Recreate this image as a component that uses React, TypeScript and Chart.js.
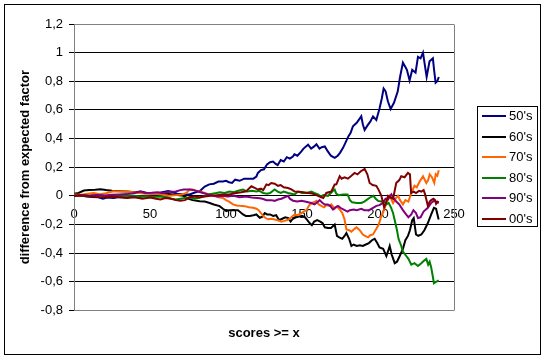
import React, { useEffect, useRef } from "react";
import { Chart, registerables } from "chart.js";
Chart.register(...registerables);

const seriesLabels = ["50's", "60's", "70's", "80's", "90's", "00's"];
const seriesColors = ["#000080", "#000000", "#FF6600", "#008000", "#800080", "#800000"];

const xTitle = "scores >= x";
const yTitle = "difference from expected factor";
const xMin = 0, xMax = 250, xStep = 50;
const yMin = -0.8, yMax = 1.2, yStep = 0.2;

const s50: [number, number][] = [
  [0,0],[4,0.005],[8,-0.005],[12,-0.008],[16,-0.01],[19,-0.02],[22,-0.012],[26,-0.015],[30,-0.008],[34,-0.012],[38,-0.006],[42,-0.01],[46,-0.003],[50,0.0],[54,0.01],[58,0.025],[62,0.033],[65,0.025],[68,0.015],[72,0.01],[76,0.01],[80,0.025],[83,0.035],[86,0.065],[89,0.08],[92,0.085],[95,0.1],[98,0.1],[100,0.105],[102,0.095],[104,0.09],[106,0.113],[109,0.105],[112,0.12],[115,0.12],[118,0.12],[120,0.135],[121,0.16],[123,0.18],[125,0.185],[127,0.22],[129,0.235],[131,0.24],[132.5,0.225],[134,0.215],[136,0.25],[138,0.24],[140,0.27],[142,0.26],[144,0.275],[145,0.29],[147,0.28],[149.6,0.31],[151,0.33],[154,0.357],[156,0.33],[158,0.345],[159.5,0.36],[161.5,0.33],[163,0.34],[165,0.345],[167,0.31],[169,0.28],[171.5,0.265],[173.5,0.28],[175,0.3],[177,0.335],[179,0.38],[180.5,0.415],[182,0.44],[183.5,0.485],[186,0.51],[189,0.555],[190,0.5],[191.2,0.46],[193,0.49],[195,0.52],[196.7,0.555],[198.9,0.53],[201,0.61],[202.5,0.68],[203.7,0.75],[205,0.73],[206.5,0.66],[208.3,0.606],[210.5,0.65],[213,0.73],[214.5,0.83],[216.4,0.93],[218,0.9],[219,0.88],[220.8,0.806],[222.5,0.88],[224.7,0.86],[226.3,0.97],[228,0.96],[229.6,1.0],[231,0.9],[232,0.83],[233.9,0.94],[236.1,0.96],[237,0.87],[237.9,0.79],[239,0.8],[240,0.83]
];

const s60: [number, number][] = [
  [0,0.014],[3,0.02],[6.5,0.037],[10,0.04],[14,0.042],[17.4,0.046],[21,0.04],[25,0.035],[30.5,0.032],[35,0.03],[40,0.025],[44,0.03],[48,0.02],[52,0.018],[56,0.02],[61,0.015],[65,0.01],[68,0.005],[72,0.0],[75,-0.02],[78,-0.03],[82.7,-0.037],[86,-0.04],[89.3,-0.05],[92,-0.06],[95.8,-0.072],[98,-0.09],[100.2,-0.107],[102,-0.1],[104.6,-0.1],[107.9,-0.1],[111.2,-0.13],[113,-0.14],[115.6,-0.14],[118,-0.135],[120,-0.13],[122.2,-0.153],[124,-0.145],[125.5,-0.12],[127,-0.13],[129,-0.13],[131,-0.14],[133,-0.135],[135,-0.17],[137,-0.16],[139,-0.15],[141,-0.155],[142.5,-0.18],[144,-0.16],[146,-0.15],[148,-0.145],[150,-0.14],[152,-0.15],[153.5,-0.17],[155,-0.19],[156.5,-0.205],[158,-0.18],[160,-0.17],[162,-0.18],[163.5,-0.19],[165,-0.22],[167,-0.225],[169,-0.225],[170.5,-0.21],[171.5,-0.2],[173,-0.28],[174.5,-0.29],[176.5,-0.3],[178,-0.28],[179.2,-0.26],[181,-0.3],[182.5,-0.35],[184,-0.34],[186,-0.35],[188,-0.345],[190,-0.35],[192,-0.34],[194,-0.33],[196,-0.31],[197.8,-0.3],[199.5,-0.33],[201,-0.36],[203.4,-0.37],[205.5,-0.42],[206.5,-0.39],[207.7,-0.35],[209,-0.41],[211,-0.47],[212.5,-0.46],[214.3,-0.42],[216.4,-0.37],[218,-0.31],[219.7,-0.28],[221,-0.24],[222.5,-0.17],[223.5,-0.155],[225,-0.27],[226.5,-0.28],[228.5,-0.27],[230.5,-0.24],[232.8,-0.19],[235,-0.13],[236.8,-0.084],[238.2,-0.09],[239.9,-0.165]
];

const s70: [number, number][] = [
  [0,0.01],[5,0.008],[9,0.015],[13,0.02],[17,0.012],[21,0.018],[26,0.032],[30,0.03],[35,0.03],[39,0.025],[43,0.02],[47,0.015],[51,0.012],[55,0.014],[59,0.005],[63,0.0],[67,0.005],[71,0.01],[74,0.02],[76,0.044],[78,0.045],[80,0.035],[83,0.03],[86,0.02],[89,0.01],[92,0.0],[95,-0.01],[98,-0.015],[100,-0.03],[102,-0.04],[104.6,-0.06],[107,-0.068],[109,-0.07],[112.3,-0.072],[115,-0.08],[117.8,-0.083],[120,-0.09],[121.5,-0.1],[123,-0.12],[124.4,-0.14],[126,-0.155],[127.7,-0.164],[130,-0.16],[132,-0.165],[134,-0.17],[136.4,-0.18],[138.5,-0.175],[140.8,-0.167],[143,-0.15],[145.2,-0.13],[147,-0.135],[149.6,-0.12],[151,-0.11],[152.9,-0.1],[154.5,-0.07],[156.2,-0.05],[158,-0.045],[159.4,-0.035],[161,-0.06],[162.7,-0.07],[164.5,-0.08],[166,-0.065],[168,-0.07],[169.3,-0.06],[171.5,-0.09],[173,-0.075],[174.8,-0.095],[176.5,-0.12],[178,-0.165],[179.2,-0.235],[181,-0.24],[182.5,-0.25],[184,-0.235],[185.8,-0.22],[188,-0.24],[190,-0.27],[191.5,-0.28],[193.4,-0.29],[195,-0.275],[196.7,-0.27],[198.9,-0.23],[200.5,-0.2],[202.2,-0.14],[204,-0.1],[205.5,-0.05],[207.7,0.0],[209.9,-0.05],[211.5,-0.02],[213.2,0.0],[214.5,-0.03],[216.4,-0.06],[218,-0.03],[220,-0.04],[221.9,0.02],[224,0.07],[225.5,0.06],[227.4,0.1],[229.6,0.137],[231.8,0.09],[233,0.11],[234,0.15],[235.5,0.13],[237,0.09],[238,0.15],[239,0.14],[240,0.178]
];

const s80: [number, number][] = [
  [0,0.0],[5,0.003],[10,0.0],[15,0.005],[20,0.0],[25,-0.003],[30,0.0],[35,0.002],[39.4,0.0],[44,-0.005],[48,-0.003],[52,-0.008],[56,-0.005],[61.4,-0.01],[64,-0.02],[67,-0.025],[70,-0.02],[73,-0.015],[76.2,-0.01],[79,-0.02],[82,-0.015],[85,-0.005],[88,0.01],[91,0.015],[93.7,0.02],[96,0.025],[99,0.02],[102.4,0.03],[105,0.025],[108,0.035],[111.2,0.044],[114,0.03],[117,0.035],[120,0.03],[122,0.035],[124.4,0.02],[127,0.015],[129,0.02],[132,0.044],[134,0.03],[136,0.02],[138,0.03],[140.8,0.02],[143,0.015],[145.2,0.01],[147.4,0.03],[150,0.02],[153,0.02],[156.2,0.03],[158,0.02],[160.5,0.01],[162.5,-0.005],[164,0.005],[167.1,0.0],[169,0.02],[170.4,0.035],[171.5,0.044],[172.5,0.015],[174,0.005],[177,0.01],[180,0.01],[181.5,-0.03],[183,-0.045],[186,-0.05],[189,-0.05],[191,-0.04],[193,-0.025],[195,-0.01],[197,0.0],[198.5,-0.02],[200,-0.035],[202,-0.04],[204,-0.035],[205.5,-0.06],[207,-0.05],[208.5,-0.08],[209.9,-0.12],[211,-0.17],[212.5,-0.24],[213.5,-0.3],[215.3,-0.35],[216.4,-0.39],[218.6,-0.42],[220,-0.44],[221.9,-0.48],[224,-0.47],[226.3,-0.49],[228.5,-0.47],[230,-0.455],[231.8,-0.44],[233,-0.48],[234,-0.46],[235,-0.5],[236,-0.56],[236.8,-0.61],[238.2,-0.6],[240,-0.59]
];

const s90: [number, number][] = [
  [0,0.0],[5,0.005],[10,0.0],[15,0.005],[20,0.002],[25,0.008],[30,0.01],[35,0.012],[40,0.02],[43.7,0.03],[47,0.02],[51,0.022],[55,0.025],[59,0.02],[63,0.028],[67,0.03],[70,0.04],[72.2,0.044],[76,0.044],[79,0.04],[81.6,0.03],[84.9,0.02],[88,0.01],[91.5,0.0],[95,-0.005],[98,0.0],[101,-0.005],[105,0.0],[109,-0.01],[113,-0.005],[117,-0.012],[122.2,-0.017],[124,-0.02],[126.6,-0.03],[129.8,-0.03],[132,-0.035],[134.2,-0.026],[136.5,-0.02],[138.6,-0.01],[140.8,0.0],[142,-0.02],[144.1,-0.034],[147,-0.04],[149.6,-0.034],[152,-0.04],[154,-0.045],[156,-0.05],[158.3,-0.06],[160,-0.045],[161.6,-0.03],[163,-0.045],[164.9,-0.06],[167,-0.06],[168.5,-0.07],[170.4,-0.095],[172,-0.08],[173.7,-0.07],[175.5,-0.085],[178.1,-0.1],[180,-0.11],[181.4,-0.1],[184,-0.095],[186,-0.1],[189,-0.09],[191,-0.1],[194,-0.1],[196.5,-0.085],[198.9,-0.07],[201,-0.065],[203,-0.05],[205,-0.02],[206.6,-0.025],[208.8,0.01],[210.5,-0.02],[212,-0.04],[214,-0.06],[216.4,-0.1],[218.5,-0.13],[220,-0.15],[221.9,-0.13],[223.3,-0.1],[225,-0.12],[226.3,-0.155],[228,-0.15],[230,-0.11],[232.8,-0.084],[235,-0.05],[237.2,-0.03],[238.5,-0.05],[240,-0.045]
];

const s00: [number, number][] = [
  [0,0.0],[5,0.003],[10,-0.003],[15,-0.008],[20,-0.01],[25,-0.005],[30,-0.01],[35,-0.015],[40,-0.01],[45,-0.02],[50,-0.012],[54,-0.02],[56.9,-0.026],[60,-0.015],[64,-0.02],[67,-0.03],[70,-0.035],[73,-0.03],[76.2,-0.01],[79,-0.005],[82.7,-0.01],[86,-0.005],[90,0.0],[94,0.005],[98,0.01],[102,0.01],[106.8,0.02],[110,0.025],[113.4,0.032],[115,0.05],[116.7,0.067],[118.9,0.055],[121,0.044],[123,0.05],[124.5,0.04],[126.6,0.08],[128,0.075],[129.8,0.09],[132,0.085],[134.2,0.07],[136,0.075],[138,0.06],[140.8,0.055],[143,0.045],[145.2,0.03],[148,0.028],[151,0.025],[154,0.02],[156,0.018],[158.3,0.01],[160.5,0.0],[162.7,-0.01],[164,-0.015],[166,0.02],[169.3,0.03],[171.5,0.079],[172.6,0.08],[174.8,0.137],[176,0.12],[178,0.13],[180.2,0.12],[182.5,0.14],[184.6,0.16],[186.5,0.15],[188.5,0.17],[191.2,0.188],[193,0.15],[194.5,0.09],[196.5,0.075],[198.9,0.07],[200.5,0.04],[202.2,0.0],[204,-0.08],[205.5,-0.04],[206.6,0.0],[208,-0.01],[209.9,-0.02],[212,0.09],[214,0.11],[215.3,0.137],[217.5,0.13],[219.7,0.16],[221,0.15],[221.8,0.02],[223.5,0.03],[225,0.02],[227,0.035],[228.5,0.03],[230,0.04],[231,0.01],[232.8,-0.07],[234,-0.04],[235,-0.03],[236.5,-0.02],[237.5,-0.03],[238.2,-0.055],[239,-0.04],[240,-0.045]
];

const FONT = "'Liberation Sans', Arial, sans-serif";

function fmtY(v: number): string {
  const r = Math.round(v * 10) / 10;
  return String(r).replace(".", ",");
}

export default function App() {
  const ref = useRef<HTMLCanvasElement>(null);

  useEffect(() => {
    const canvas = ref.current;
    if (!canvas) return;
    const seriesData = [s50, s60, s70, s80, s90, s00];

    const framePlugin = {
      id: "frame",
      beforeDatasetsDraw(chart: any) {
        const { ctx, chartArea: a } = chart;
        ctx.save();
        ctx.strokeStyle = "#808080";
        ctx.lineWidth = 1;
        const x = Math.round(a.right) + 0.5;
        ctx.beginPath();
        ctx.moveTo(x, Math.round(a.top) + 0.5);
        ctx.lineTo(x, Math.round(a.bottom) + 0.5);
        ctx.stroke();
        ctx.restore();
      },
      afterDraw(chart: any) {
        const { ctx } = chart;
        ctx.save();
        // outer chart border
        ctx.strokeStyle = "#000000";
        ctx.lineWidth = 1;
        ctx.strokeRect(4.5, 4.5, 536, 350);
        // legend
        ctx.strokeRect(477.5, 106.5, 60, 120);
        ctx.font = "13px " + FONT;
        ctx.textBaseline = "middle";
        ctx.textAlign = "left";
        seriesLabels.forEach((lab, i) => {
          const y = Math.round(116 + i * 20.6);
          ctx.strokeStyle = seriesColors[i];
          ctx.lineWidth = 2;
          ctx.beginPath();
          ctx.moveTo(482, y);
          ctx.lineTo(506, y);
          ctx.stroke();
          ctx.fillStyle = "#000000";
          ctx.fillText(lab, 509, y + 0.5);
        });
        ctx.restore();
      },
    };

    const chart = new Chart(canvas, {
      type: "line",
      data: {
        datasets: seriesLabels.map((lab, i) => ({
          label: lab,
          data: seriesData[i].map(([x, y]) => ({ x, y })),
          borderColor: seriesColors[i],
          backgroundColor: seriesColors[i],
          borderWidth: 2,
          pointRadius: 0,
          tension: 0,
          fill: false,
          order: seriesLabels.length - i,
        })),
      },
      options: {
        responsive: false,
        animation: false,
        devicePixelRatio: 1,
        events: [],
        layout: { padding: { left: 0, right: 92, top: 24, bottom: 16 } },
        plugins: {
          legend: { display: false },
          tooltip: { enabled: false },
          title: {
            display: true,
            position: "bottom",
            fullSize: false,
            text: xTitle,
            color: "#000000",
            font: { family: FONT, size: 13, weight: "bold" },
            padding: { top: 15, bottom: 3 },
          },
        },
        scales: {
          x: {
            type: "linear",
            position: { y: 0 } as any,
            min: xMin,
            max: xMax,
            grid: { display: false, drawTicks: false, tickLength: 0 },
            border: { display: false },
            ticks: {
              stepSize: xStep,
              color: "#000000",
              font: { family: FONT, size: 13 },
              padding: 11,
              maxRotation: 0,
              callback: (v: any) => String(v),
            },
          },
          y: {
            type: "linear",
            position: "left",
            min: yMin,
            max: yMax,
            afterFit: (scale: any) => {
              scale.width = 74;
            },
            border: { display: true, color: "#808080", width: 1 },
            grid: {
              color: (ctx: any) => {
                const v = ctx.tick ? ctx.tick.value : 0;
                return Math.abs(v - yMax) < 1e-6 || Math.abs(v - yMin) < 1e-6 ? "#808080" : "#000000";
              },
              tickColor: "#000000",
              tickLength: 5,
              lineWidth: 1,
            },
            ticks: {
              stepSize: yStep,
              color: "#000000",
              font: { family: FONT, size: 13 },
              padding: 6,
              callback: (v: any) => fmtY(Number(v)),
            },
            title: {
              display: true,
              text: yTitle,
              color: "#000000",
              font: { family: FONT, size: 13, weight: "bold" },
              padding: { top: 18, bottom: 0 },
            },
          },
        },
      },
      plugins: [framePlugin],
    });

    return () => chart.destroy();
  }, []);

  return (
    <div style={{ position: "absolute", left: 0, top: 0, width: 546, height: 360, background: "#ffffff" }}>
      <canvas ref={ref} width={546} height={360} style={{ display: "block" }} />
    </div>
  );
}
